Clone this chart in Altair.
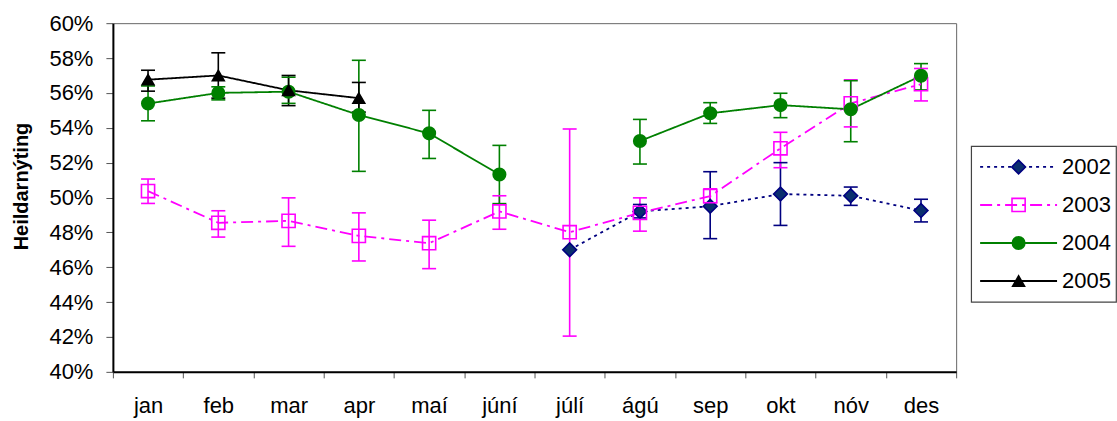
import altair as alt
import pandas as pd

months = ["jan", "feb", "mar", "apr", "maí", "júní", "júlí", "ágú", "sep", "okt", "nóv", "des"]
years = ["2002", "2003", "2004", "2005"]

# values in percent (None = no value)
v2002 = [None, None, None, None, None, None, 47.0, 49.2, 49.5, 50.2, 50.1, 49.25]
lo2002 = [None, None, None, None, None, None, None, 48.83, 47.64, 48.4, 49.55, 48.6]
hi2002 = [None, None, None, None, None, None, None, 49.6, 51.48, 52.0, 50.6, 49.9]

v2003 = [50.37, 48.55, 48.66, 47.8, 47.38, 49.2, 48.01, 49.12, 50.08, 52.82, 55.4, 56.5]
lo2003 = [49.66, 47.73, 47.2, 46.36, 45.92, 48.18, 42.05, 48.07, 49.7, 51.71, 54.05, 55.54]
hi2003 = [51.06, 49.24, 49.98, 49.12, 48.7, 50.1, 53.93, 49.98, 50.5, 53.74, 56.75, 57.4]

v2004 = [55.39, 56.0, 56.07, 54.73, 53.68, 51.32, None, 53.24, 54.83, 55.3, 55.06, 56.98]
lo2004 = [54.4, 55.6, 55.4, 51.5, 52.24, 49.65, None, 51.92, 54.25, 54.58, 53.2, 56.17]
hi2004 = [56.4, 56.35, 56.9, 57.87, 55.0, 52.99, None, 54.48, 55.44, 55.98, 56.7, 57.68]

v2005 = [56.76, 57.0, 56.15, 55.7, None, None, None, None, None, None, None, None]
lo2005 = [56.1, 55.7, 55.27, 54.9, None, None, None, None, None, None, None, None]
hi2005 = [57.3, 58.3, 57.0, 56.6, None, None, None, None, None, None, None, None]

y_ticks = [0.40, 0.42, 0.44, 0.46, 0.48, 0.50, 0.52, 0.54, 0.56, 0.58, 0.60]

series = {"2002": (v2002, lo2002, hi2002), "2003": (v2003, lo2003, hi2003),
          "2004": (v2004, lo2004, hi2004), "2005": (v2005, lo2005, hi2005)}

rows = []
for yr in years:
    vals, los, his = series[yr]
    seg = 0
    prev = None
    for i, m in enumerate(months):
        v = vals[i]
        if v is None:
            prev = None
            continue
        if prev is None:
            seg += 1
        prev = v
        rows.append({"year": yr, "month": m, "value": v / 100,
                     "lo": None if los[i] is None else los[i] / 100,
                     "hi": None if his[i] is None else his[i] / 100,
                     "seg": f"{yr}-{seg}"})
df = pd.DataFrame(rows)
err = df.dropna(subset=["lo", "hi"])

# styles
colors = ["#000080", "#FF00FF", "#008000", "#000000"]
fills = ["#0A2F6E", "transparent", "#008000", "#000000"]
shapes = ["diamond", "square", "circle", "triangle-up"]
dashes = [[3, 4], [12, 5, 3, 5], [1, 0], [1, 0]]
sizes = [190, 140, 180, 190]

color_scale = alt.Scale(domain=years, range=colors)
fill_scale = alt.Scale(domain=years, range=fills)
shape_scale = alt.Scale(domain=years, range=shapes)
dash_scale = alt.Scale(domain=years, range=dashes)
size_scale = alt.Scale(domain=years, range=sizes)

X = alt.X("month:N", sort=months, bandPosition=0.5,
          scale=alt.Scale(type="band", paddingInner=0, paddingOuter=0),
          axis=alt.Axis(title=None, tickBand="extent", labelAngle=0, labelPadding=18,
                        tickSize=6, labelFontSize=22, labelColor="black",
                        domainColor="black", domainWidth=2, tickColor="#555"))
ysc = alt.Scale(domain=[0.40, 0.60], nice=False, zero=False)
yaxis = alt.Axis(title="Heildarnýting", format=".0%", values=y_ticks, tickSize=7,
                 labelPadding=13, labelFontSize=22, labelColor="black", labelOverlap=False,
                 labelSeparation=0, labelBound=False,
                 titleFontSize=20, titleFontWeight="bold", titlePadding=17,
                 titleColor="black", titleY=163, domainColor="black", domainWidth=2,
                 tickColor="#555", grid=False)

col = alt.Color("year:N", scale=color_scale, legend=None)

rules = alt.Chart(err).mark_rule(strokeWidth=1.6).encode(
    x=X, y=alt.Y("lo:Q", scale=ysc, axis=yaxis), y2="hi:Q", color=col)
cap_lo = alt.Chart(err).mark_tick(size=14, thickness=1.6, opacity=1).encode(
    x=X, y=alt.Y("lo:Q", scale=ysc, axis=yaxis), color=col)
cap_hi = alt.Chart(err).mark_tick(size=14, thickness=1.6, opacity=1).encode(
    x=X, y=alt.Y("hi:Q", scale=ysc, axis=yaxis), color=col)
lines = alt.Chart(df).mark_line(strokeWidth=1.8).encode(
    x=X, y=alt.Y("value:Q", scale=ysc, axis=yaxis), color=col, detail="seg:N",
    strokeDash=alt.StrokeDash("year:N", scale=dash_scale, legend=None))
points = alt.Chart(df).mark_point(opacity=1, strokeWidth=1.6).encode(
    x=X, y=alt.Y("value:Q", scale=ysc, axis=yaxis),
    shape=alt.Shape("year:N", scale=shape_scale, legend=None),
    fill=alt.Fill("year:N", scale=fill_scale, legend=None),
    stroke=alt.Stroke("year:N", scale=color_scale, legend=None),
    size=alt.Size("year:N", scale=size_scale, legend=None))

main = alt.layer(rules, cap_lo, cap_hi, lines, points).properties(
    width=844, height=349, view=alt.ViewBackground(stroke="#666", strokeWidth=1))

# legend panel
leg_df = pd.DataFrame({"year": years})
LY = alt.Y("year:N", sort=years, scale=alt.Scale(type="point", padding=0.55), axis=None)
lx = alt.Scale(domain=[0, 145])
leg_line = alt.Chart(leg_df).mark_rule(strokeWidth=1.8).encode(
    x=alt.XDatum(9, type="quantitative", scale=lx, axis=None),
    x2=alt.X2Datum(86), y=LY, color=col,
    strokeDash=alt.StrokeDash("year:N", scale=dash_scale, legend=None))
leg_pt = alt.Chart(leg_df).mark_point(opacity=1, strokeWidth=1.6).encode(
    x=alt.XDatum(47.5, type="quantitative", scale=lx, axis=None), y=LY,
    shape=alt.Shape("year:N", scale=shape_scale, legend=None),
    fill=alt.Fill("year:N", scale=fill_scale, legend=None),
    stroke=alt.Stroke("year:N", scale=color_scale, legend=None),
    size=alt.Size("year:N", scale=size_scale, legend=None))
leg_txt = alt.Chart(leg_df).mark_text(align="left", baseline="middle", fontSize=22,
                                      color="black").encode(
    x=alt.XDatum(91, type="quantitative", scale=lx, axis=None), y=LY, text="year:N")
legend = alt.layer(leg_line, leg_pt, leg_txt).properties(
    width=145, height=156, view=alt.ViewBackground(stroke="#444", strokeWidth=1.2))

spacer = alt.Chart(leg_df).mark_point(opacity=0).properties(
    width=145, height=122, view=alt.ViewBackground(strokeOpacity=0))

right = alt.vconcat(spacer, legend, spacing=0)

chart = alt.hconcat(main, right, spacing=13).properties(
    padding={"left": 11, "top": 11, "right": 0, "bottom": 0}
).configure(font="Liberation Sans").configure_view(fill="white"
).configure_axisY(labelOverlap=False)

chart.save("out.html", embed_options={"renderer": "svg", "actions": False})
